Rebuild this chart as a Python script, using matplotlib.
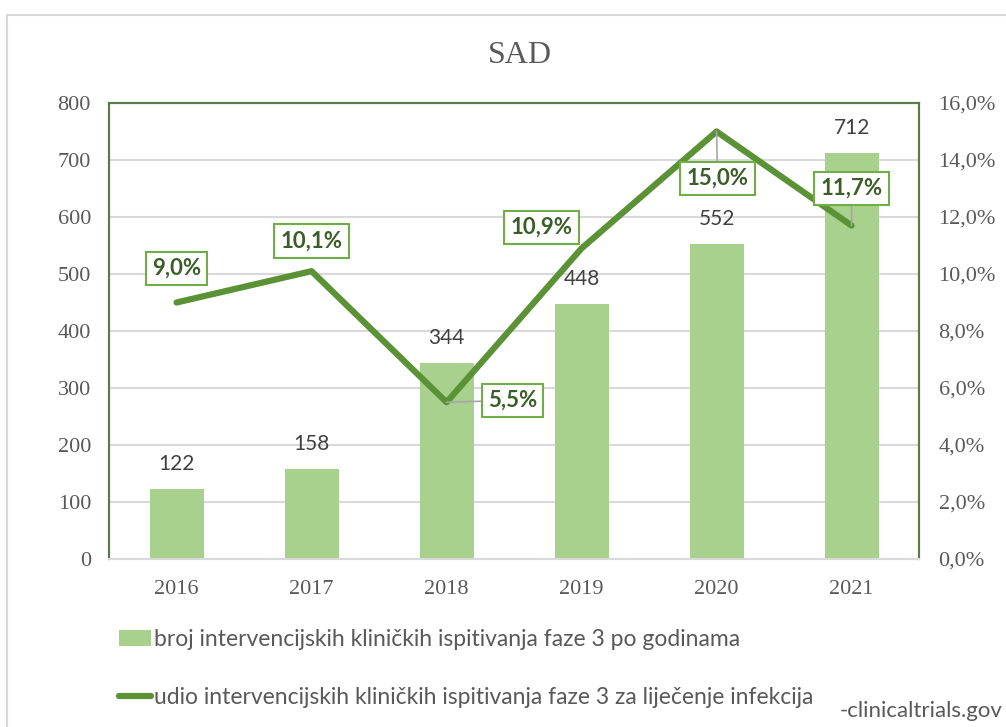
import matplotlib
matplotlib.use("Agg")
import matplotlib.pyplot as plt
from matplotlib.patches import Rectangle
from matplotlib.ticker import FuncFormatter
from matplotlib.lines import Line2D

# podaci (clinicaltrials.gov, SAD)
godine = ["2016", "2017", "2018", "2019", "2020", "2021"]
broj = [122, 158, 344, 448, 552, 712]
udio = [9.0, 10.1, 5.5, 10.9, 15.0, 11.7]
udio_labels = ["9,0%", "10,1%", "5,5%", "10,9%", "15,0%", "11,7%"]

label_bar = "broj intervencijskih kliničkih ispitivanja faze 3 po godinama"
label_line = "udio intervencijskih kliničkih ispitivanja faze 3 za liječenje infekcija"

bar_color = "#a9d18e"
line_color = "#5b9236"
frame_color = "#5a7a48"
grid_color = "#d9d9d9"
txt_color = "#595959"
lab_color = "#3b5e28"
serif = "Liberation Serif"
sans = "Lato"

fig = plt.figure(figsize=(10.06, 7.27), dpi=100)
ax = fig.add_axes([0.1084, 0.2311, 0.8052, 0.6272])
ax2 = ax.twinx()

x = list(range(len(godine)))
ax.bar(x, broj, width=0.4, color=bar_color, zorder=2)
ax.set_xlim(-0.5, 5.5)
ax.set_ylim(0, 800)
ax.set_yticks(range(0, 801, 100))
ax.set_xticks(x)
ax.set_xticklabels(godine)
ax.yaxis.grid(True, color=grid_color, lw=1.5, zorder=0)
ax.set_axisbelow(True)

for i, v in enumerate(broj):
    ax.annotate(str(v), (i, v), xytext=(0, 18), textcoords="offset points",
                ha="center", va="center", fontsize=15, family=sans, color="#404040")

ax2.plot(x, udio, color=line_color, lw=4.5, solid_capstyle="round", zorder=3)
ax2.set_ylim(0, 16)
ax2.set_yticks(range(0, 17, 2))
ax2.yaxis.set_major_formatter(FuncFormatter(lambda v, p: ("%.1f%%" % v).replace(".", ",")))

# pomaci oznaka postotaka (u tockama) i vodilice
offsets = [(0, 24.5), (0, 21.6), (47.5, 1.4), (-28.8, 15.1), (0.7, -33.8), (0, 26.6)]
leader = [False, False, True, False, True, True]
for i, v in enumerate(udio):
    ap = dict(arrowstyle="-", color="#a6a6a6", lw=1.2, shrinkA=0, shrinkB=0) if leader[i] else None
    ax2.annotate(udio_labels[i], (i, v), xytext=offsets[i], textcoords="offset points",
                 ha="center", va="center", fontsize=16, fontweight="bold", family=sans,
                 color=lab_color, zorder=5, arrowprops=ap,
                 bbox=dict(boxstyle="square,pad=0.28", fc="white", ec="#70ad47", lw=1.5))

for a in (ax, ax2):
    for s in a.spines.values():
        s.set_color(frame_color)
        s.set_linewidth(1.5)
    a.spines["bottom"].set_color(grid_color)
    a.tick_params(length=0, labelsize=16, labelcolor=txt_color)
    for t in a.get_xticklabels() + a.get_yticklabels():
        t.set_family(serif)
ax.tick_params(axis="y", pad=13)
ax.tick_params(axis="x", pad=15)
ax2.tick_params(axis="y", pad=14)

fig.text(0.517, 0.924, "SAD", ha="center", va="center", fontsize=23, family=serif, color=txt_color)

handles = [Rectangle((0, 0), 1, 1, fc=bar_color, ec="none"),
           Line2D([0], [0], color=line_color, lw=4.5, solid_capstyle="round")]
leg = fig.legend(handles, [label_bar, label_line], loc="upper left",
                 bbox_to_anchor=(0.107, 0.15), frameon=False, fontsize=16.5,
                 handlelength=1.4, handletextpad=0.13, labelspacing=1.58, borderpad=0)
for t in leg.get_texts():
    t.set_family(sans)
    t.set_color(txt_color)

fig.text(0.997, 0.022, "-clinicaltrials.gov", ha="right", va="center", fontsize=16,
         family=sans, color=txt_color)

fig.patches.append(Rectangle((7 / 1006, -0.1), 1.1, (727 - 15) / 727 + 0.1,
                             transform=fig.transFigure, fill=False, ec=grid_color, lw=1.5))

fig.savefig("out.png", dpi=100)
